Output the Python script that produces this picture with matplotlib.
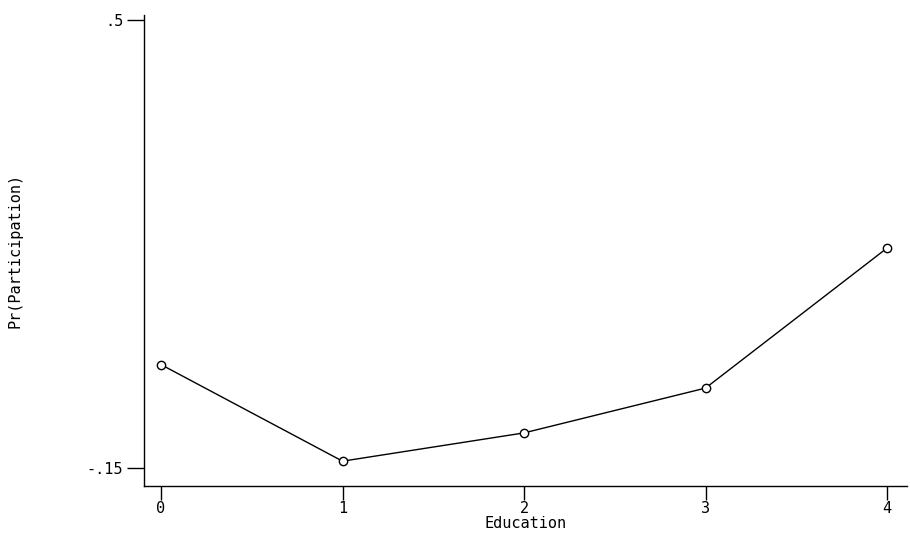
import matplotlib
matplotlib.use("Agg")
import matplotlib.pyplot as plt

education = [0, 1, 2, 3, 4]
participation = [0.0, -0.140, -0.099, -0.034, 0.169]
ytick_vals = [-0.15, 0.5]
ytick_labels = ["-.15", ".5"]

plt.rcParams["font.family"] = ["DejaVu Sans Mono"]

fig = plt.figure(figsize=(9.1, 5.45), dpi=100)
ax = fig.add_axes([144 / 910, 1 - 486 / 545, (907 - 144) / 910, (486 - 15) / 545])

ax.plot(education, participation, color="black", linewidth=1.0,
        marker="o", markersize=6, markerfacecolor="white",
        markeredgecolor="black", markeredgewidth=1.0)

ax.set_xlim(-0.094, 4.11)
ax.set_ylim(-0.176, 0.507)
ax.set_xticks(education)
ax.set_xticklabels([str(e) for e in education])
ax.set_yticks(ytick_vals)
ax.set_yticklabels(ytick_labels)

for side in ["top", "right"]:
    ax.spines[side].set_visible(False)
for side in ["left", "bottom"]:
    ax.spines[side].set_linewidth(1.0)

ax.tick_params(axis="y", length=12, width=1.0, labelsize=11, pad=3)
ax.tick_params(axis="x", length=10, width=1.0, labelsize=11, pad=1)

ax.set_xlabel("Education", fontsize=11, labelpad=0)
ax.set_ylabel("Pr(Participation)", fontsize=11, labelpad=46)

fig.savefig("out.png", dpi=100, facecolor="white")
